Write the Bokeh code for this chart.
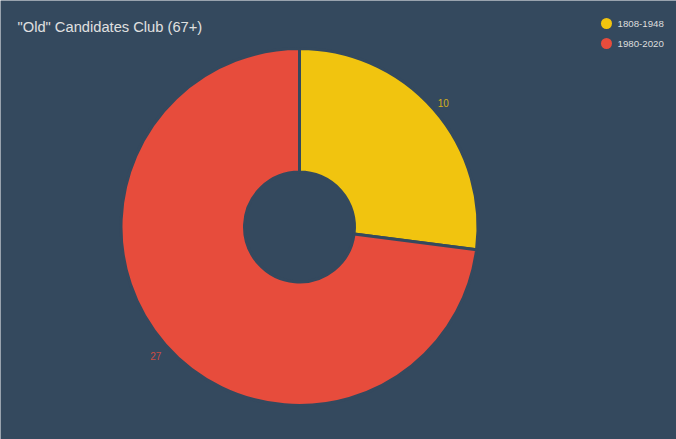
import math
from bokeh.plotting import figure
from bokeh.models import Range1d
from bokeh.core.properties import value
from bokeh.embed import file_html
from bokeh.resources import INLINE

title_text = '"Old" Candidates Club (67+)'
categories = ["1808-1948", "1980-2020"]
counts = [10, 27]
colors = ["#f1c40f", "#e74c3c"]

BG = "#34495e"
W, H = 676, 439

def sx(x):
    return x

def sy(y):
    return H - y

p = figure(width=W, height=H, output_backend="svg", toolbar_location=None,
           x_range=Range1d(0, W), y_range=Range1d(0, H), min_border=0)
p.axis.visible = False
p.grid.visible = False
p.outline_line_color = None
p.background_fill_color = BG
p.border_fill_color = BG

cx, cy = sx(299), sy(226.5)
r_out, r_in = 178.5, 55
total = sum(counts)
cum = 0
starts, ends, mids = [], [], []
for c in counts:
    a0 = math.pi / 2 - 2 * math.pi * cum / total
    cum += c
    a1 = math.pi / 2 - 2 * math.pi * cum / total
    starts.append(a0)
    ends.append(a1)
    mids.append((a0 + a1) / 2)

p.annular_wedge(x=[cx] * len(counts), y=[cy] * len(counts), inner_radius=r_in,
                outer_radius=r_out, start_angle=starts, end_angle=ends,
                direction="clock", fill_color=colors, line_color=BG, line_width=3)

r_lab = 191.5
p.text(x=[cx + r_lab * math.cos(m) for m in mids],
       y=[cy + r_lab * math.sin(m) - 2.6 for m in mids],
       text=[str(c) for c in counts], text_color=colors, text_alpha=0.85,
       text_font=value("Liberation Sans"), text_font_size="10px",
       text_align="center", text_baseline="middle")

p.text(x=[sx(17)], y=[sy(26)], text=[title_text], text_color="#e0e0e0",
       text_font=value("Liberation Sans"), text_font_size="14.7px",
       text_align="left", text_baseline="middle")

leg_x = [sx(606)] * len(categories)
leg_y = [sy(23 + 20 * i) for i in range(len(categories))]
p.scatter(x=leg_x, y=leg_y, size=11, marker="circle", fill_color=colors, line_color=None)
p.text(x=[sx(617)] * len(categories), y=leg_y, text=categories, text_color="#dddddd",
       text_font=value("Liberation Sans"), text_font_size="9.7px",
       text_align="left", text_baseline="middle")

open("out.html", "w").write(file_html(p, INLINE))
